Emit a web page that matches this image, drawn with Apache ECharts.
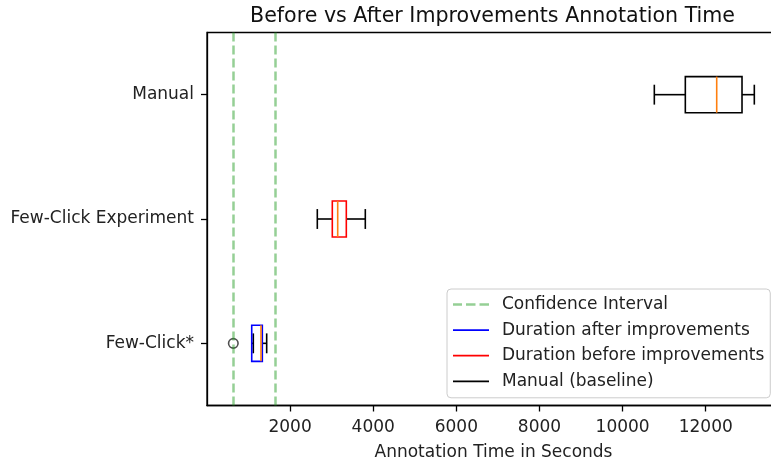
<!DOCTYPE html>
<html><head><meta charset="utf-8">
<script src="https://cdn.jsdelivr.net/npm/echarts@6/dist/echarts.min.js"></script>
<style>html,body{margin:0;padding:0;background:#fff}#c{width:771px;height:461px}</style>
</head><body><div id="c"></div>
<script>
const categories = ['Few-Click*', 'Few-Click Experiment', 'Manual'];
// [whiskerLow, Q1, median, Q3, whiskerHigh]
const afterStats = [1114, 1076, 1299, 1331, 1436];
const beforeStats = [2654, 3015, 3145, 3352, 3809];
const manualStats = [10763, 11509, 12264, 12873, 13169];
const afterOutliers = [633];
const ciBounds = [642, 1643];
const xTicks = [2000, 4000, 6000, 8000, 10000, 12000];
const legendNames = ['Confidence Interval', 'Duration after improvements', 'Duration before improvements', 'Manual (baseline)'];

const FONT = 'DejaVu Sans';
const ciColor = 'rgba(44,160,44,0.5)';
const colors = ['#0000ff', '#ff0000', '#000000'];

function renderBox(boxColor) {
  return function (params, api) {
    const yi = api.value(0);
    const p = [1, 2, 3, 4, 5].map(d => api.coord([api.value(d), yi]));
    const band = api.size([0, 1])[1];
    const bh = band * 0.29, ch = band * 0.16;
    const cy = p[0][1];
    const ls = c => ({ stroke: c, lineWidth: 1.6, fill: null });
    return {
      type: 'group', children: [
        { type: 'line', shape: { x1: p[0][0], y1: cy, x2: p[1][0], y2: cy }, style: ls('#000') },
        { type: 'line', shape: { x1: p[3][0], y1: cy, x2: p[4][0], y2: cy }, style: ls('#000') },
        { type: 'line', shape: { x1: p[0][0], y1: cy - ch / 2, x2: p[0][0], y2: cy + ch / 2 }, style: ls('#000') },
        { type: 'line', shape: { x1: p[4][0], y1: cy - ch / 2, x2: p[4][0], y2: cy + ch / 2 }, style: ls('#000') },
        { type: 'rect', shape: { x: p[1][0], y: cy - bh / 2, width: p[3][0] - p[1][0], height: bh }, style: { fill: 'none', stroke: boxColor, lineWidth: 1.6 } },
        { type: 'line', shape: { x1: p[2][0], y1: cy - bh / 2, x2: p[2][0], y2: cy + bh / 2 }, style: ls('#ff7f0e') }
      ]
    };
  };
}

const solidIcon = 'path://M0,0H36V1.8H0Z';
const dashIcon = 'path://M0,0H9V2.5H0Z M13,0H22.5V2.5H13Z M26.5,0H36V2.5H26.5Z';

const chart = echarts.init(document.getElementById('c'));
chart.setOption({
  animation: false,
  backgroundColor: '#fff',
  title: {
    text: 'Before vs After Improvements Annotation Time',
    left: 250, top: 6, padding: 0,
    textStyle: { fontFamily: FONT, fontSize: 20.6, fontWeight: 'normal', color: '#111' }
  },
  grid: { left: 207, top: 32.5, width: 573, height: 373, show: true, borderColor: '#000', borderWidth: 1.3, backgroundColor: 'transparent', outerBoundsMode: 'none', containLabel: false },
  xAxis: {
    type: 'value', min: 0, max: 13787, interval: 2000,
    name: 'Annotation Time in Seconds', nameLocation: 'middle', nameGap: 39,
    nameTextStyle: { fontFamily: FONT, fontSize: 17, color: '#222' },
    axisLine: { show: true, lineStyle: { color: '#000', width: 1.3 } },
    axisTick: { show: true, length: 6, lineStyle: { color: '#000', width: 1.3 }, customValues: xTicks },
    axisLabel: { fontFamily: FONT, fontSize: 17, color: '#222', margin: 14, customValues: xTicks, formatter: v => String(v) },
    splitLine: { show: false }
  },
  yAxis: {
    type: 'category', data: categories,
    axisLine: { show: true, lineStyle: { color: '#000', width: 1.3 } },
    axisTick: { show: true, alignWithLabel: true, length: 6, lineStyle: { color: '#000', width: 1.3 } },
    axisLabel: { fontFamily: FONT, fontSize: 17, color: '#222', margin: 13 },
    splitLine: { show: false }
  },
  legend: {
    orient: 'vertical', left: 447, top: 289, padding: [7, 6, 8, 6],
    itemGap: 8.6, itemWidth: 36, itemHeight: 14,
    backgroundColor: 'rgba(255,255,255,0.8)', borderColor: '#cccccc', borderWidth: 1, borderRadius: 4,
    selectedMode: false,
    textStyle: { fontFamily: FONT, fontSize: 17, color: '#222', padding: [0, 0, 0, 8] },
    data: [
      { name: legendNames[0], icon: dashIcon, itemStyle: { color: ciColor } },
      { name: legendNames[1], icon: solidIcon, itemStyle: { color: colors[0] } },
      { name: legendNames[2], icon: solidIcon, itemStyle: { color: colors[1] } },
      { name: legendNames[3], icon: solidIcon, itemStyle: { color: colors[2] } }
    ]
  },
  series: [
    {
      name: legendNames[0], type: 'line', data: [], itemStyle: { color: ciColor },
      markLine: {
        silent: true, symbol: ['none', 'none'], label: { show: false },
        lineStyle: { color: ciColor, width: 2.5, type: [9, 4] },
        data: ciBounds.map(v => ({ xAxis: v }))
      }
    },
    {
      name: legendNames[1], type: 'custom', itemStyle: { color: colors[0] },
      encode: { x: [1, 2, 3, 4, 5], y: 0 },
      data: [[0].concat(afterStats)], renderItem: renderBox(colors[0]), z: 3
    },
    {
      name: legendNames[2], type: 'custom', itemStyle: { color: colors[1] },
      encode: { x: [1, 2, 3, 4, 5], y: 0 },
      data: [[1].concat(beforeStats)], renderItem: renderBox(colors[1]), z: 3
    },
    {
      name: legendNames[3], type: 'custom', itemStyle: { color: colors[2] },
      encode: { x: [1, 2, 3, 4, 5], y: 0 },
      data: [[2].concat(manualStats)], renderItem: renderBox(colors[2]), z: 3
    },
    {
      name: 'outliers', type: 'scatter', symbol: 'circle', symbolSize: 9.5,
      itemStyle: { color: 'transparent', borderColor: '#222', borderWidth: 1.6 },
      data: afterOutliers.map(v => [v, 0]), z: 4
    }
  ]
});
</script>
</body></html>
